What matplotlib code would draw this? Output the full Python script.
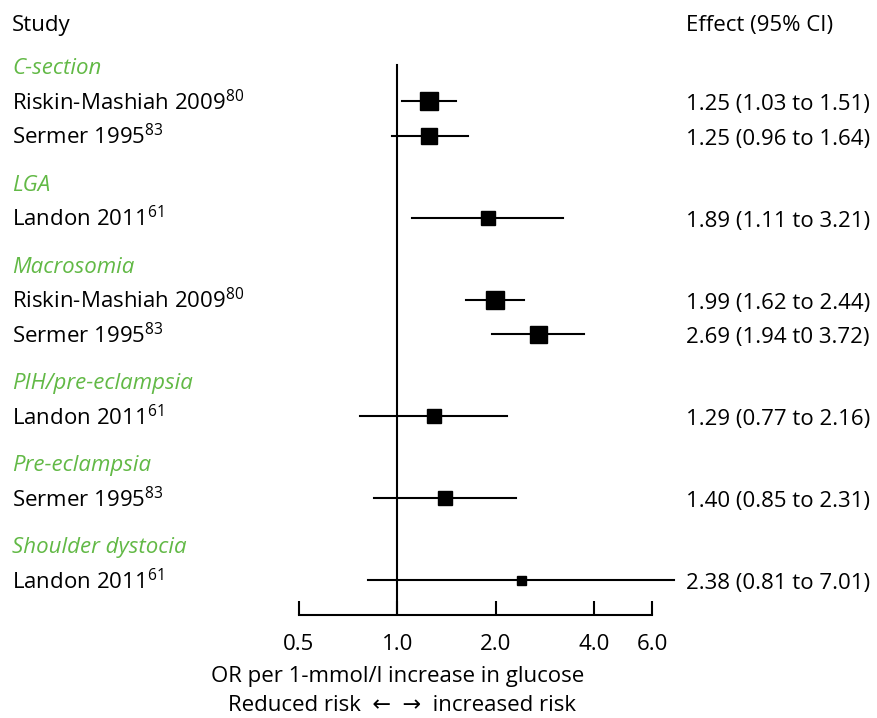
import matplotlib
matplotlib.use('Agg')
import matplotlib.pyplot as plt
from matplotlib.transforms import blended_transform_factory

plt.rcParams['font.family'] = ['Open Sans', 'DejaVu Sans']
plt.rcParams['mathtext.fontset'] = 'custom'
plt.rcParams['mathtext.rm'] = 'Open Sans'
plt.rcParams['mathtext.it'] = 'Open Sans:italic'
plt.rcParams['mathtext.bf'] = 'Open Sans:bold'

# ---- data ----
groups = ["C-section", "LGA", "Macrosomia", "PIH/pre-eclampsia",
          "Pre-eclampsia", "Shoulder dystocia"]
group_of = [0, 0, 1, 2, 2, 3, 4, 5]
studies = ["Riskin-Mashiah 2009", "Sermer 1995", "Landon 2011",
           "Riskin-Mashiah 2009", "Sermer 1995", "Landon 2011",
           "Sermer 1995", "Landon 2011"]
refs = ["80", "83", "61", "80", "83", "61", "83", "61"]
odds = [1.25, 1.25, 1.89, 1.99, 2.69, 1.29, 1.40, 2.38]
lower = [1.03, 0.96, 1.11, 1.62, 1.94, 0.77, 0.85, 0.81]
upper = [1.51, 1.64, 3.21, 2.44, 3.72, 2.16, 2.31, 7.01]
effect_text = ["1.25 (1.03 to 1.51)", "1.25 (0.96 to 1.64)",
               "1.89 (1.11 to 3.21)", "1.99 (1.62 to 2.44)",
               "2.69 (1.94 t0 3.72)", "1.29 (0.77 to 2.16)",
               "1.40 (0.85 to 2.31)", "2.38 (0.81 to 7.01)"]
box_px = [18, 16, 14, 18, 17, 14, 14, 9]
tick_vals = [0.5, 1.0, 2.0, 4.0, 6.0]
tick_labels = ["0.5", "1.0", "2.0", "4.0", "6.0"]

GREEN = '#62b946'
FS = 16
W, H = 877, 718

# ---- layout (pixel units from top) ----
first_header = 66.5
row_gap = 34.5
header_gap = 47.5
header_y = []
study_y = []
y = first_header - header_gap
prev_group = -1
for g in group_of:
    if g != prev_group:
        y += header_gap
        header_y.append(y)
        prev_group = g
    y += row_gap
    study_y.append(y)

axis_y = 615
fig = plt.figure(figsize=(W / 100, H / 100), dpi=100)
ax = fig.add_axes([299 / W, (H - axis_y) / H, (652 - 299) / W, axis_y / H])
ax.set_xscale('log')
ax.set_xlim(0.5, 6.0)
ax.set_ylim(axis_y, 0)
for s in ['left', 'right', 'top']:
    ax.spines[s].set_visible(False)
ax.spines['bottom'].set_linewidth(1.5)
ax.set_xticks(tick_vals)
ax.set_xticklabels(tick_labels, fontsize=FS)
ax.xaxis.set_minor_locator(matplotlib.ticker.NullLocator())
ax.tick_params(axis='x', direction='in', length=10, width=1.5, pad=14)
ax.set_yticks([])
ax.patch.set_visible(False)

# null line
ax.plot([1.0, 1.0], [65, axis_y], color='black', lw=1.5, zorder=2)

for i in range(len(odds)):
    yy = study_y[i]
    ax.plot([lower[i], upper[i]], [yy, yy], color='black', lw=1.5,
            clip_on=False, zorder=3)
    ax.plot([odds[i]], [yy], marker='s', color='black',
            markersize=box_px[i] * 0.72, clip_on=False, zorder=4)

tr = blended_transform_factory(fig.transFigure, ax.transData)
for g, hy in zip(groups, header_y):
    ax.text(12 / W, hy + 8, g, transform=tr, color=GREEN, style='italic',
            fontsize=FS, va='baseline', ha='left')
for i in range(len(odds)):
    ax.text(12 / W, study_y[i] + 9, studies[i] + "$^{" + refs[i] + "}$",
            transform=tr, fontsize=FS, va='baseline', ha='left')
    ax.text(686 / W, study_y[i] + 9, effect_text[i], transform=tr,
            fontsize=FS, va='baseline', ha='left')

fig.text(12 / W, 1 - 31 / H, "Study", fontsize=FS, va='baseline', ha='left')
fig.text(686 / W, 1 - 31 / H, "Effect (95% CI)", fontsize=FS,
         va='baseline', ha='left')
fig.text(398 / W, 1 - 682 / H, "OR per 1-mmol/l increase in glucose",
         fontsize=FS, va='baseline', ha='center')
fig.text(402 / W, 1 - 711 / H, "Reduced risk  \u2190  \u2192  increased risk",
         fontsize=FS, va='baseline', ha='center')

fig.savefig('out.png', dpi=100)
